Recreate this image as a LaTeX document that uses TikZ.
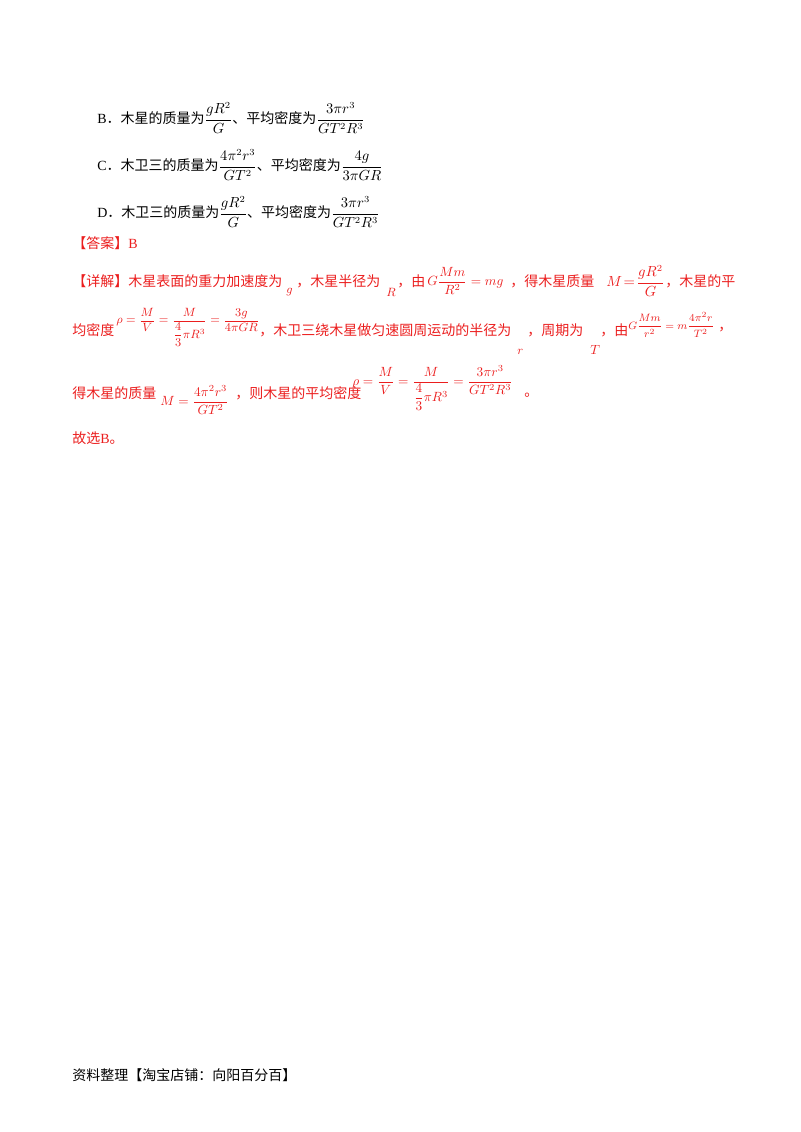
\documentclass[tikz,border=0pt]{standalone}
\usepackage{amsmath}
\usepackage{fontspec}
\setmainfont{Liberation Serif}
\newfontfamily\cjk{Noto Sans CJK SC}
\definecolor{ansred}{RGB}{235,30,30}
\begin{document}
\begin{tikzpicture}[x=0.75pt,y=-0.75pt,
  txt/.style={anchor=west,inner sep=0pt,font=\fontsize{10.5}{12}\selectfont\cjk},
  red/.style={txt,text=ansred},
  mth/.style={anchor=west,inner sep=0pt,text=ansred,font=\fontsize{8}{9}\selectfont}]
\useasboundingbox (0,0) rectangle (800,1132);
\node[txt] (b) at (97,118) {{\rmfamily B}．木星的质量为$\dfrac{gR^2}{G}$、平均密度为$\dfrac{3\pi r^3}{GT^2R^3}$};
\node[txt] (c) at (97,165) {{\rmfamily C}．木卫三的质量为$\dfrac{4\pi^2r^3}{GT^2}$、平均密度为$\dfrac{4g}{3\pi GR}$};
\node[txt] (d) at (97,212) {{\rmfamily D}．木卫三的质量为$\dfrac{gR^2}{G}$、平均密度为$\dfrac{3\pi r^3}{GT^2R^3}$};
\node[red] (ans) at (72,243) {【答案】{\rmfamily B}};
% line 1
\node[red] (l1a) at (72,281) {【详解】木星表面的重力加速度为};
\node[mth,font=\fontsize{9}{10}\selectfont] (g1) at (286,292) {$g$};
\node[red] (l1b) at (296,281) {，木星半径为};
\node[mth,font=\fontsize{9}{10}\selectfont] (r1) at (386,292) {$R$};
\node[red] (l1c) at (397,281) {，由};
\node[mth,font=\fontsize{10}{11}\selectfont] (f1) at (427,281) {$G\dfrac{Mm}{R^2}=mg$};
\node[red] (l1d) at (510,281) {，得木星质量};
\node[mth,font=\fontsize{10.5}{12}\selectfont] (f2) at (606,281) {$M\!=\!\dfrac{gR^2}{G}$};
\node[red] (l1e) at (665,281) {，木星的平};
% line 2
\node[red] (l2a) at (72,330) {均密度};
\node[mth,font=\fontsize{8.7}{10}\selectfont] (f3) at (116,327) {$\rho=\dfrac{M}{V}=\dfrac{M}{\dfrac{4}{3}\pi R^3}=\dfrac{3g}{4\pi GR}$};
\node[red] (l2b) at (259,330) {，木卫三绕木星做匀速圆周运动的半径为};
\node[mth,font=\fontsize{9}{10}\selectfont] (r2) at (517,352) {$r$};
\node[red] (l2c) at (527,330) {，周期为};
\node[mth,font=\fontsize{10}{12}\selectfont] (t2) at (590,350) {$T$};
\node[red] (l2d) at (600,330) {，由};
\node[mth,font=\fontsize{8.5}{10}\selectfont] (f4) at (628,325) {$G\dfrac{Mm}{r^2}=m\dfrac{4\pi^2r}{T^2}$};
\node[red] (l2e) at (718,330) {，};
% line 3
\node[red] (l3a) at (72,393) {得木星的质量};
\node[mth,font=\fontsize{10}{11}\selectfont] (f5) at (160,400) {$M=\dfrac{4\pi^2r^3}{GT^2}$};
\node[red] (l3b) at (235,393) {，则木星的平均密度};
\node[mth,font=\fontsize{10}{11}\selectfont] (f6) at (352,388) {$\rho=\dfrac{M}{V}=\dfrac{M}{\dfrac{4}{3}\pi R^3}=\dfrac{3\pi r^3}{GT^2R^3}$};
\node[red] (l3c) at (524,395) {。};
\node[red] (sel) at (72,438) {故选{\rmfamily B}。};
\node[txt] (foot) at (72,1075) {资料整理【淘宝店铺：向阳百分百】};
\end{tikzpicture}
\end{document}
